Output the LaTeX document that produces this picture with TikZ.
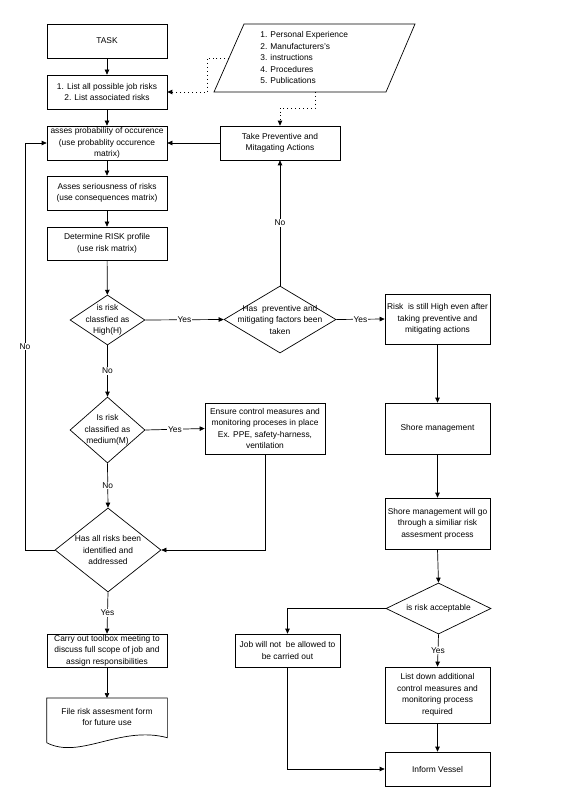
\documentclass[tikz,border=0pt]{standalone}
\usepackage{fontspec}
\setmainfont{Liberation Sans}
\usetikzlibrary{shapes.geometric,arrows.meta}
\begin{document}
\begin{tikzpicture}[x=1pt,y=-1pt,line width=0.7pt,
  font=\fontsize{8.4}{11.5}\selectfont,
  box/.style={draw,rectangle,inner sep=0pt,align=center},
  dia/.style={draw,diamond,inner sep=0pt},
  txt/.style={align=center,inner sep=0pt},
  arr/.style={-{Triangle[length=5pt,width=4.5pt]}},
  lbl/.style={fill=white,inner sep=1pt},
  dot/.style={dash pattern=on 0.9pt off 3pt,line width=0.9pt}]
\useasboundingbox (0,0) rectangle (580,791);
% left column
\node[box,minimum width=120pt,minimum height=34pt] (task) at (107,41) {TASK};
\node[box,minimum width=120pt,minimum height=34pt] (list) at (107,92) {1. List all possible job risks\\2. List associated risks};
\node[box,minimum width=120pt,minimum height=34pt] (prob) at (107,143) {asses probability of occurence\\(use probablity occurence\\matrix)};
\node[box,minimum width=120pt,minimum height=34pt] (sev) at (107,193) {Asses seriousness of risks\\(use consequences matrix)};
\node[box,minimum width=120pt,minimum height=33pt] (prof) at (107,243.5) {Determine RISK profile\\(use risk matrix)};
\node[dia,minimum width=75pt,minimum height=50pt] (high) at (107.5,320) {};
\node[txt] (hight) at (high) {is risk\\classfied as\\High(H)};
\node[dia,minimum width=75pt,minimum height=66pt] (med) at (107.5,430) {};
\node[txt] (medt) at (med) {Is risk\\classified as\\medium(M)};
\node[dia,minimum width=106pt,minimum height=84pt] (all) at (108,550) {};
\node[txt] (allt) at (all) {Has all risks been\\identified and\\addressed};
\node[box,minimum width=120pt,minimum height=33pt] (carry) at (107,650.5) {Carry out toolbox meeting to\\discuss full scope of job and\\assign responsibilities};
\node[inner sep=0pt,minimum width=120pt,minimum height=44pt,anchor=north] (doc) at (107,698) {};
\draw (doc.south west) -- (doc.north west) -- (doc.north east) -- ([yshift=5pt]doc.south east)
  .. controls (120,725) and (80,760) .. (doc.south west);
\node[txt] (doct) at (107,717) {File risk assesment form\\for future use};
% middle column
\draw (244,24) -- (415,24) -- (386,92) -- (214,92) -- cycle;
\node[align=left,inner sep=0pt,anchor=west] (src) at (260,58) {1. Personal Experience\\2. Manufacturers's\\3. instructions\\4. Procedures\\5. Publications};
\coordinate (pleft) at (229,58);
\coordinate (pbot) at (315,92);
\coordinate (d1) at (207,58);
\coordinate (d2) at (315,108);
\node[box,minimum width=120pt,minimum height=34pt] (prev) at (280,143) {Take Preventive and\\Mitagating Actions};
\node[dia,minimum width=112pt,minimum height=67pt] (hasprev) at (280,319.5) {};
\node[txt] (hasprevt) at (hasprev) {Has\ \ preventive and\\mitigating factors been\\taken};
\node[box,minimum width=120pt,minimum height=51pt] (ensure) at (265,428.5) {Ensure control measures and\\monitoring proceses in place\\Ex. PPE, safety-harness,\\ventilation};
\node[box,minimum width=105pt,minimum height=33pt] (job) at (287.5,650.5) {Job will not\ \ be allowed to\\be carried out};
% right column
\node[box,minimum width=105pt,minimum height=50pt] (still) at (437.5,319) {Risk\ \ is still High even after\\taking preventive and\\mitigating actions};
\node[box,minimum width=105pt,minimum height=51pt] (shore) at (437.5,428.5) {Shore management};
\node[box,minimum width=105pt,minimum height=51pt] (shore2) at (437.5,523.5) {Shore management will go\\through a similiar risk\\assesment process};
\node[dia,minimum width=105pt,minimum height=51pt] (acc) at (438.5,608.5) {};
\node[txt] (acct) at (acc) {is risk acceptable};
\node[box,minimum width=105pt,minimum height=56pt] (listdown) at (437.5,695) {List down additional\\control measures and\\monitoring process\\required};
\node[box,minimum width=105pt,minimum height=34pt] (inform) at (437.5,769) {Inform Vessel};
\coordinate (loopx) at (25,0);
% connectors
\draw[arr] (task) -- (list);
\draw[arr] (list) -- (prob);
\draw[arr] (prob) -- (sev);
\draw[arr] (sev) -- (prof);
\draw[arr] (prof) -- (high);
\draw[arr] (high.east) -- node[lbl]{Yes} (hasprev.west);
\draw[arr] (hasprev.north) -- node[lbl]{No} (prev.south);
\draw[arr] (prev.west) -- (prob.east);
\draw[arr] (hasprev.east) -- node[lbl]{Yes} (still.west);
\draw[arr] (still) -- (shore);
\draw[arr] (shore) -- (shore2);
\draw[arr] (shore2.south) -- (acc.north);
\draw[arr] (acc.west) -| (job.north);
\draw[arr] (acc.south) -- node[lbl]{Yes} (listdown.north);
\draw[arr] (listdown) -- (inform);
\draw[arr] (job.south) |- (inform.west);
\draw[arr] (high.south) -- node[lbl]{No} (med.north);
\draw[arr] (med.east) -- node[lbl]{Yes} (ensure.west);
\draw[arr] (ensure.south) |- (all.east);
\draw[arr] (med.south) -- node[lbl]{No} (all.north);
\draw[arr] (all.west) -- (all.west -| loopx) -- node[lbl]{No} (prob.west -| loopx) -- (prob.west);
\draw[arr] (all.south) -- node[lbl]{Yes} (carry.north);
\draw[arr] (carry) -- (doc);
\draw[arr,dot] (pleft) -- (d1) |- (list.east);
\draw[arr,dot] (pbot) -- (d2) -| (prev.north);
\end{tikzpicture}
\end{document}
